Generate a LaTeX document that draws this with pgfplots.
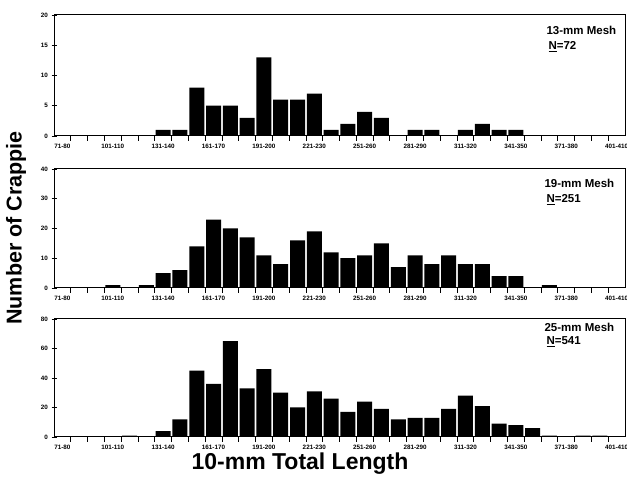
\documentclass[border=0pt]{standalone}
\usepackage{fontspec}
\setmainfont{Liberation Sans}
\usepackage{pgfplots}
\pgfplotsset{compat=1.18}
\pgfplotsset{panel/.style={
  scale only axis, width=571pt,
  xmin=-0.5, xmax=33.5, ymin=0,
  axis line style={line width=1pt},
  xtick={0,3,...,33},
  xticklabels={71-80,101-110,131-140,161-170,191-200,221-230,251-260,281-290,311-320,341-350,371-380,401-410},
  minor xtick={0.5,1.5,...,32.5},
  major x tick style={draw=none},
  tick style={line width=0.8pt, black},
  tick align=center,
  minor tick length=5pt, major tick length=5pt,
  ticklabel style={font=\fontsize{6.3}{7}\selectfont\bfseries},
  /pgf/number format/assume math mode=true,
  xtick pos=bottom, ytick pos=left,
  ybar, bar width=15pt,
}}
\begin{document}
\begin{tikzpicture}
\useasboundingbox (0,0) rectangle (627pt,478pt);
% Panel 1
\begin{axis}[panel, at={(54pt,342pt)}, anchor=south west, height=121pt,
  ymax=20, ytick={0,5,...,20}]
\addplot[fill=black, draw=none] coordinates {(6,1) (7,1) (8,8) (9,5) (10,5) (11,3) (12,13) (13,6) (14,6) (15,7) (16,1) (17,2) (18,4) (19,3) (21,1) (22,1) (24,1) (25,2) (26,1) (27,1)};
\end{axis}
% Panel 2
\begin{axis}[panel, at={(54pt,190pt)}, anchor=south west, height=119pt,
  ymax=40, ytick={0,10,...,40}]
\addplot[fill=black, draw=none] coordinates {(3,1) (5,1) (6,5) (7,6) (8,14) (9,23) (10,20) (11,17) (12,11) (13,8) (14,16) (15,19) (16,12) (17,10) (18,11) (19,15) (20,7) (21,11) (22,8) (23,11) (24,8) (25,8) (26,4) (27,4) (29,1)};
\end{axis}
% Panel 3
\begin{axis}[panel, at={(54pt,41pt)}, anchor=south west, height=118pt,
  ymax=80, ytick={0,20,...,80}]
\addplot[fill=black, draw=none] coordinates {(4,1) (6,4) (7,12) (8,45) (9,36) (10,65) (11,33) (12,46) (13,30) (14,20) (15,31) (16,26) (17,17) (18,24) (19,19) (20,12) (21,13) (22,13) (23,19) (24,28) (25,21) (26,9) (27,8) (28,6) (29,1) (31,1) (32,1)};
\end{axis}
\node[font=\fontsize{11.5}{13}\selectfont\bfseries, anchor=base west] at (543pt,443pt) {13-mm Mesh};
\node[font=\fontsize{11.5}{13}\selectfont\bfseries, anchor=base west] at (545pt,428pt) {\underline{N}=72};
\node[font=\fontsize{11.5}{13}\selectfont\bfseries, anchor=base west] at (541pt,290pt) {19-mm Mesh};
\node[font=\fontsize{11.5}{13}\selectfont\bfseries, anchor=base west] at (543pt,275pt) {\underline{N}=251};
\node[font=\fontsize{11.5}{13}\selectfont\bfseries, anchor=base west] at (541pt,146pt) {25-mm Mesh};
\node[font=\fontsize{11.5}{13}\selectfont\bfseries, anchor=base west] at (543pt,133pt) {\underline{N}=541};
\node[font=\fontsize{21.5}{24}\selectfont\bfseries, rotate=90] at (16pt,250pt) {Number of Crappie};
\node[font=\fontsize{23}{26}\selectfont\bfseries] at (300pt,14pt) {10-mm Total Length};
\end{tikzpicture}
\end{document}
